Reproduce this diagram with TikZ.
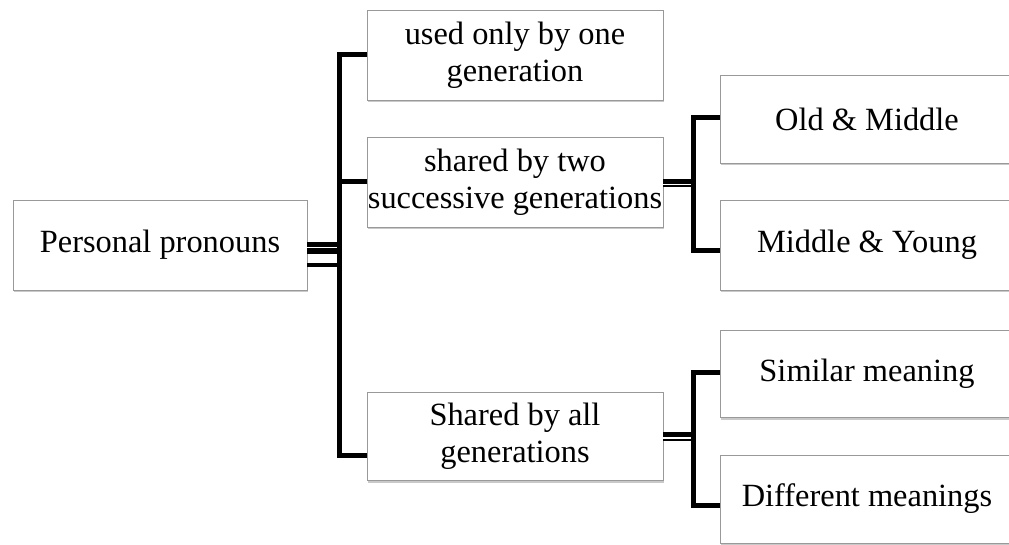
\documentclass[tikz,border=0pt]{standalone}
\usepackage{fontspec}
\setmainfont{Liberation Serif}
\usetikzlibrary{shadows}
\begin{document}
\begin{tikzpicture}[x=1pt,y=-1pt,
  box/.style={draw=black!40, line width=0.8pt, fill=white, align=center,
    inner sep=0pt, font=\fontsize{32.4}{37}\selectfont,
    drop shadow={shadow xshift=1pt, shadow yshift=-2.5pt, opacity=0.35, fill=black!60}},
  lbox/.style={box, minimum width=296pt, minimum height=90pt},
  rbox/.style={box, minimum width=294pt, minimum height=88pt},
  conn/.style={line width=5pt, black},
  gapline/.style={line width=1.2pt, white}]
\useasboundingbox (0,0) rectangle (1009,545);
\clip (0,0) rectangle (1009,545);
\fill[white] (0,0) rectangle (1009,545);

\node[box, minimum width=294pt, minimum height=90pt] (pp) at (160,245) {Personal pronouns};
\node[lbox] (b1) at (515,55) {used only by one\\generation};
\node[lbox] (b2) at (515,182) {shared by two\\successive generations};
\node[lbox, minimum height=88pt] (b3) at (515,436) {Shared by all\\generations};
\node[rbox] (c1) at (867,119) {Old \& Middle};
\node[rbox, minimum height=90pt] (c2) at (867,245) {Middle \& Young};
\node[rbox, minimum height=87pt] (c3) at (867,373.5) {Similar meaning};
\node[rbox] (c4) at (867,499) {Different meanings};

\coordinate (tA) at (339,248);
\coordinate (tB) at (693,183);
\coordinate (tC) at (693,436.5);

% main trunk
\draw[conn, line width=11.5pt] (pp.east |- tA) -- (tA);
\draw[gapline] (pp.east |- 0,247.6) -- (tA |- 0,247.6);
\draw[conn, line width=4pt] (pp.east |- 0,265.3) -- (tA |- 0,265.3);
\draw[conn] (b1.west) -- (b1.west -| tA) -- (tA |- 0,455) -- (b3.west |- 0,455);
\draw[conn] (tA |- b2.west) -- (b2.west);

% second trunk
\draw[conn, line width=8pt] (b2.east |- tB) -- (tB);
\draw[gapline] (b2.east |- 0,184.7) -- (tB |- 0,184.7);
\draw[conn] (c1.west |- 0,118) -- (tB |- 0,118) -- (tB |- 0,251) -- (c2.west |- 0,251);

% third trunk
\draw[conn, line width=9pt] (b3.east |- tC) -- (tC);
\draw[gapline] (b3.east |- 0,438) -- (tC |- 0,438);
\draw[conn] (c3.west |- 0,372) -- (tC |- 0,372) -- (tC |- 0,505) -- (c4.west |- 0,505);
\end{tikzpicture}
\end{document}
